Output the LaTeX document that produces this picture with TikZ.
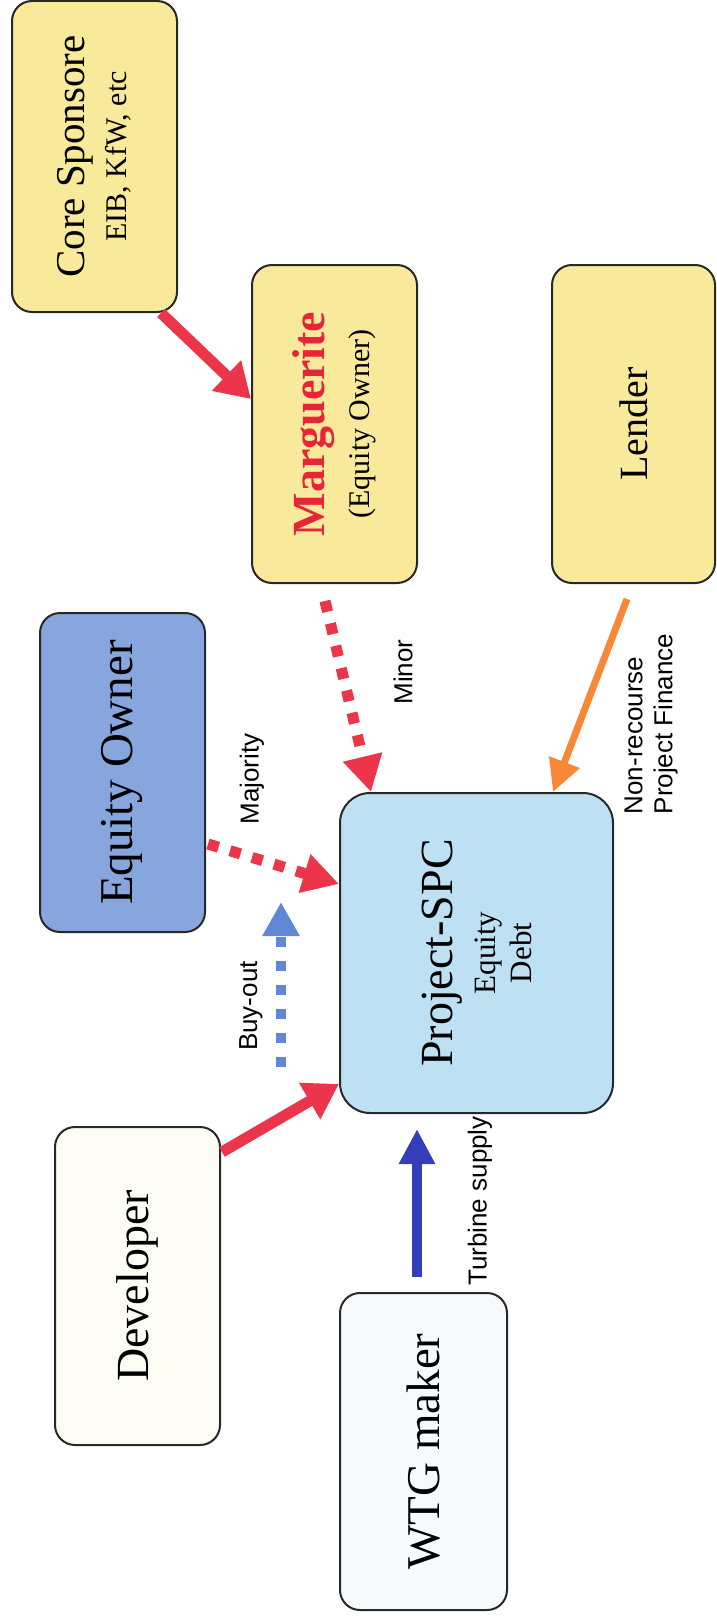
\documentclass[tikz,border=0pt]{standalone}
\usepackage{fontspec}
\setmainfont{Liberation Serif}
\setsansfont{Liberation Sans}
\usetikzlibrary{arrows.meta,calc}
\definecolor{boxyellow}{RGB}{249,234,155}
\definecolor{eqblue}{RGB}{136,166,222}
\definecolor{spcblue}{RGB}{190,224,243}
\definecolor{devcream}{RGB}{253,252,244}
\definecolor{wtgwhite}{RGB}{246,250,252}
\definecolor{boxline}{RGB}{40,40,40}
\definecolor{arrred}{RGB}{236,52,74}
\definecolor{margred}{RGB}{232,36,56}
\definecolor{arrorange}{RGB}{246,136,56}
\definecolor{buyblue}{RGB}{96,136,212}
\definecolor{turbblue}{RGB}{52,62,186}
\tikzset{
  box/.style={draw=boxline, line width=2pt, rounded corners=20pt, inner sep=0pt,
    minimum width=165pt, minimum height=318pt},
  redsolid/.style={draw=arrred, line width=11pt, -{Triangle[length=34pt,width=40pt]}},
  reddash/.style={draw=arrred, line width=11pt, dash pattern=on 11pt off 12pt,
    -{Triangle[length=36pt,width=38pt]}},
  orangearr/.style={draw=arrorange, line width=7pt, -{Triangle[length=32pt,width=31pt]}},
  bluedash/.style={draw=buyblue, line width=10pt, dash pattern=on 10pt off 14pt,
    -{Triangle[length=34pt,width=35pt]}},
  bluesolid/.style={draw=turbblue, line width=10pt, -{Triangle[length=35pt,width=34pt]}},
  lbl/.style={font=\sffamily\fontsize{26}{30}\selectfont, inner sep=0pt, rotate=90}
}
\begin{document}
\begin{tikzpicture}[x=1pt,y=-1pt]
\useasboundingbox (0,0) rectangle (716,1624);

\node[box, fill=boxyellow, minimum height=311pt] (core) at (94.5,156.5)
  {\rotatebox{90}{\vbox{\baselineskip=42pt\lineskiplimit=-100pt
   \halign{\hfil#\hfil\cr
   \fontsize{41}{44}\selectfont Core Sponsore\cr
   \fontsize{30}{32}\selectfont EIB, KfW, etc\cr}}}};

\node[box, fill=boxyellow] (marg) at (334.5,424)
  {\rotatebox{90}{\vbox{\baselineskip=45pt\lineskiplimit=-100pt
   \halign{\hfil#\hfil\cr
   \fontsize{46}{50}\selectfont\bfseries\color{margred}Marguerite\cr
   \fontsize{30}{32}\selectfont (Equity Owner)\cr}}}};

\node[box, fill=boxyellow, minimum width=163pt] (lender) at (633.5,424)
  {\rotatebox{90}{\fontsize{40}{44}\selectfont Lender}};

\node[box, fill=eqblue, minimum height=319pt] (eqo) at (122.5,772.5)
  {\rotatebox{90}{\fontsize{47}{50}\selectfont Equity Owner}};

\node[box, fill=spcblue, minimum width=273pt, minimum height=320pt, rounded corners=30pt] (spc) at (476.5,953)
  {\rotatebox{90}{\vbox{\baselineskip=43pt\lineskiplimit=-100pt
   \halign{\hfil#\hfil\cr
   \fontsize{46}{50}\selectfont Project-SPC\cr
   \fontsize{31}{33}\selectfont Equity\cr
   \noalign{\kern-7pt}
   \fontsize{31}{33}\selectfont Debt\cr}}}};

\node[box, fill=devcream] (dev) at (137.5,1286)
  {\rotatebox{90}{\fontsize{46}{50}\selectfont Developer}};

\node[box, fill=wtgwhite, minimum width=167pt, minimum height=317pt] (wtg) at (423.5,1451.5)
  {\rotatebox{90}{\fontsize{47}{50}\selectfont WTG maker}};

\coordinate (bo1) at (281,1067);
\coordinate (bo2) at (281,902);

\draw[redsolid] ($(core.south east)+(-17,0)$) -- ($(marg.north west)+(0,135)$);
\draw[reddash] ($(marg.south west)+(74,17)$) -- ($(spc.north west)+(32,0)$);
\draw[orangearr] ($(lender.south west)+(76,15)$) -- ($(spc.north east)+(-61,0)$);
\draw[reddash] ($(eqo.south east)+(2,-89)$) -- ($(spc.north west)+(0,92)$);
\draw[bluedash] (bo1) -- (bo2);
\draw[redsolid] ($(dev.north east)+(1,26)$) -- ($(spc.south west)+(0,-30)$);
\draw[bluesolid] ($(wtg.north)+(-6.5,-15)$) -- ($(spc.south)+(-59.5,15)$);

\node[lbl] (majority) at (252,779) {Majority};
\node[lbl] (minor) at (403,672) {Minor};
\node[lbl] (buyout) at (251,1006) {Buy-out};
\node[lbl] (turbine) at (480,1201) {Turbine supply};
\node[lbl, align=left] (nonrec) at (651,724) {Non-recourse\\Project Finance};
\end{tikzpicture}
\end{document}
